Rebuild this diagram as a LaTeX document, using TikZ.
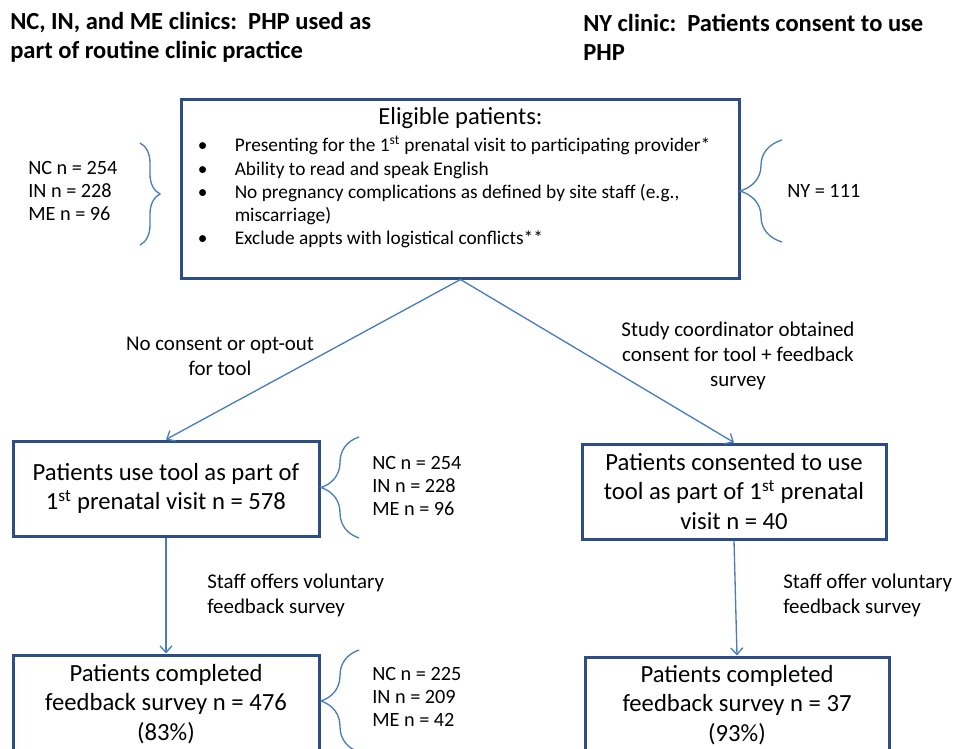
\documentclass[tikz,border=0pt]{standalone}
\usepackage{fontspec}
\setmainfont{Carlito}
\usetikzlibrary{arrows.meta, decorations.pathreplacing}

\definecolor{boxblue}{HTML}{2C4D85}
\definecolor{lineblue}{HTML}{4A7EBB}

\tikzset{
  boxnode/.style={draw=boxblue, line width=2.25pt, align=center, inner sep=0pt,
                  font=\fontsize{18.5}{22}\selectfont},
  headtext/.style={anchor=west, align=left, inner sep=0pt,
                   font=\fontsize{18.4}{21.75}\selectfont\bfseries},
  sidetext/.style={anchor=west, align=left, inner sep=0pt,
                   font=\fontsize{15.2}{17.4}\selectfont},
  notetext/.style={align=center, inner sep=0pt,
                   font=\fontsize{15.7}{18.75}\selectfont},
  flow/.style={draw=lineblue, line width=1pt, -{Straight Barb[length=5pt, width=9pt]}},
  curly/.style={draw=lineblue, line width=1pt, decorate,
                decoration={brace, amplitude=#1}}
}

\begin{document}
\begin{tikzpicture}[x=0.75pt, y=-0.75pt]
\useasboundingbox (0,0) rectangle (953,749);
\clip (0,0) rectangle (953,749);

        % Headings of the two branches
        \node[headtext] at (10,37.5)  (nchead) {NC, IN, and ME clinics:\ \ PHP used as\\part of routine clinic practice};
        \node[headtext] at (583,37.5) (nyhead) {NY clinic:\ \ Patients consent to use\\PHP};

        % Draw the boxes
        \node[boxnode, minimum width=419pt, minimum height=133.5pt] at (460.5,189) (elig)
            {{\fontsize{18.4}{20}\selectfont Eligible patients:}\\[4pt]
             \fontsize{14.5}{17.4}\selectfont
             \begin{tabular}{@{}p{27.75pt}@{}l@{\hspace{9.75pt}}}
             \textbullet & Presenting for the 1\textsuperscript{st} prenatal visit to participating provider*\\
             \textbullet & Ability to read and speak English\\
             \textbullet & No pregnancy complications as defined by site staff (e.g.,\\
                         & miscarriage)\\
             \textbullet & Exclude appts with logistical conflicts**\\[14pt]
             \end{tabular}};
        \node[boxnode, minimum width=229.5pt, minimum height=71.25pt] at (166,488.5) (use)
            {Patients use tool as part of\\1\textsuperscript{st} prenatal visit n = 578};
        \node[boxnode, minimum width=228pt, minimum height=71.25pt] at (734,491.5) (cons)
            {Patients consented to use\\tool as part of 1\textsuperscript{st} prenatal\\visit n = 40};
        \node[boxnode, minimum width=229.5pt, minimum height=73.5pt] at (166,704) (compl)
            {Patients completed\\feedback survey n = 476\\(83\%)};
        \node[boxnode, minimum width=228pt, minimum height=72pt] at (737,705) (compr)
            {Patients completed\\feedback survey n = 37\\(93\%)};

        % Site counts beside the boxes
        \node[sidetext] at (28,191)  (eligsites) {NC n = 254\\IN n = 228\\ME n = 96};
        \node[sidetext] at (787,191) (nysite)    {NY = 111};
        \node[sidetext] at (372,486) (usesites)  {NC n = 254\\IN n = 228\\ME n = 96};
        \node[sidetext] at (372,697) (compsites) {NC n = 225\\IN n = 209\\ME n = 42};

        \draw[curly=15pt]   (140,143) -- (140,245);
        \draw[curly=31.5pt] (782,242) -- (782,140);
        \draw[curly=28.5pt] (359,538) -- (359,437);
        \draw[curly=28.5pt] (359,752) -- (359,650);

        % Connect the boxes with arrows
        \draw[flow] (elig.south) -- (use.north);
        \draw[flow] (elig.south) -- (cons.north);
        \draw[flow] (use.south)  -- (compl.north);
        \draw[flow] (cons.south) -- (compr.north);

        \node[notetext] at (220,356) (optout)  {No consent or opt-out\\for tool};
        \node[notetext] at (738,356) (consent) {Study coordinator obtained\\consent for tool + feedback\\survey};
        \node[notetext, anchor=west, align=left] at (207,595) (offerl) {Staff offers voluntary\\feedback survey};
        \node[notetext, anchor=west, align=left] at (783,595) (offerr) {Staff offer voluntary\\feedback survey};
\end{tikzpicture}
\end{document}
